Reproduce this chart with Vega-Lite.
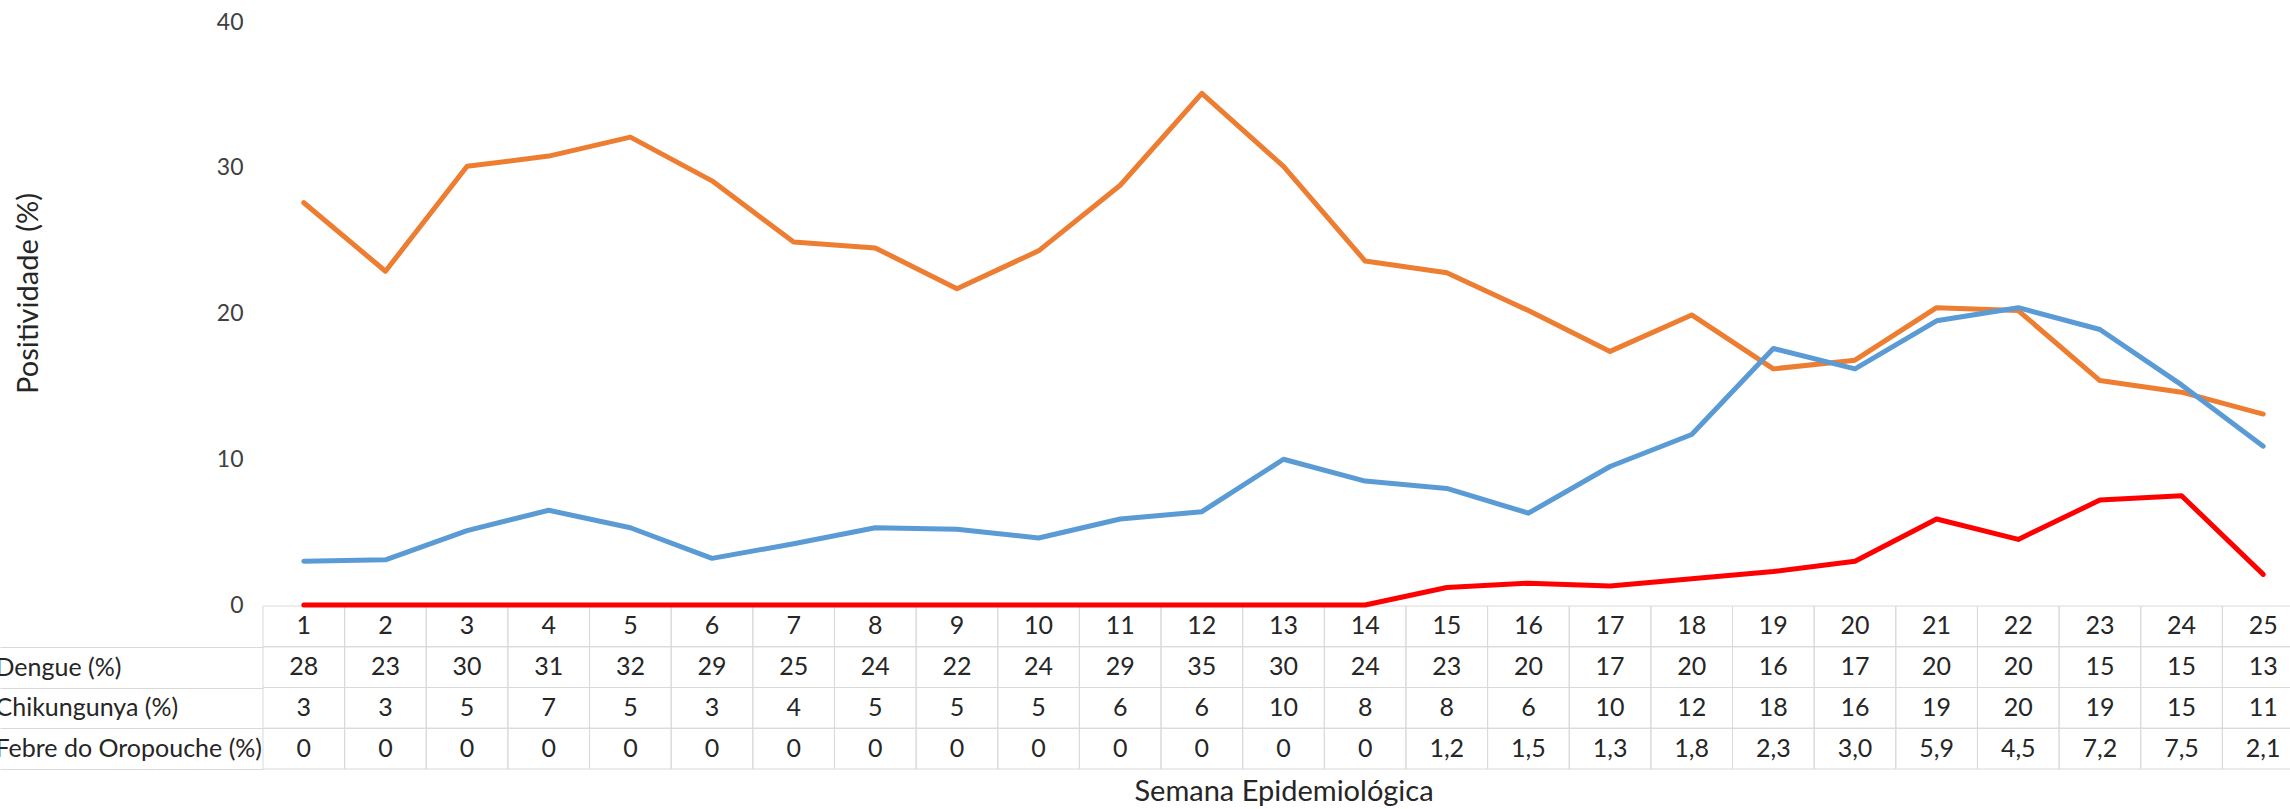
{
  "$schema": "https://vega.github.io/schema/vega-lite/v6.json",
  "autosize": {"type": "none"},
  "padding": {"left": 263, "top": 22, "right": 0, "bottom": 40},
  "width": 2027,
  "height": 747,
  "background": "white",
  "config": {"view": {"stroke": null}, "font": "Lato", "text": {"font": "Lato"}},
  "datasets": {
    "series": [
      {"week": 1, "serie": "Dengue (%)", "value": 27.6, "label": "28"},
      {"week": 2, "serie": "Dengue (%)", "value": 22.9, "label": "23"},
      {"week": 3, "serie": "Dengue (%)", "value": 30.1, "label": "30"},
      {"week": 4, "serie": "Dengue (%)", "value": 30.8, "label": "31"},
      {"week": 5, "serie": "Dengue (%)", "value": 32.1, "label": "32"},
      {"week": 6, "serie": "Dengue (%)", "value": 29.1, "label": "29"},
      {"week": 7, "serie": "Dengue (%)", "value": 24.9, "label": "25"},
      {"week": 8, "serie": "Dengue (%)", "value": 24.5, "label": "24"},
      {"week": 9, "serie": "Dengue (%)", "value": 21.7, "label": "22"},
      {"week": 10, "serie": "Dengue (%)", "value": 24.3, "label": "24"},
      {"week": 11, "serie": "Dengue (%)", "value": 28.8, "label": "29"},
      {"week": 12, "serie": "Dengue (%)", "value": 35.1, "label": "35"},
      {"week": 13, "serie": "Dengue (%)", "value": 30.1, "label": "30"},
      {"week": 14, "serie": "Dengue (%)", "value": 23.6, "label": "24"},
      {"week": 15, "serie": "Dengue (%)", "value": 22.8, "label": "23"},
      {"week": 16, "serie": "Dengue (%)", "value": 20.2, "label": "20"},
      {"week": 17, "serie": "Dengue (%)", "value": 17.4, "label": "17"},
      {"week": 18, "serie": "Dengue (%)", "value": 19.9, "label": "20"},
      {"week": 19, "serie": "Dengue (%)", "value": 16.2, "label": "16"},
      {"week": 20, "serie": "Dengue (%)", "value": 16.8, "label": "17"},
      {"week": 21, "serie": "Dengue (%)", "value": 20.4, "label": "20"},
      {"week": 22, "serie": "Dengue (%)", "value": 20.2, "label": "20"},
      {"week": 23, "serie": "Dengue (%)", "value": 15.4, "label": "15"},
      {"week": 24, "serie": "Dengue (%)", "value": 14.6, "label": "15"},
      {"week": 25, "serie": "Dengue (%)", "value": 13.1, "label": "13"},
      {"week": 1, "serie": "Chikungunya (%)", "value": 3.0, "label": "3"},
      {"week": 2, "serie": "Chikungunya (%)", "value": 3.1, "label": "3"},
      {"week": 3, "serie": "Chikungunya (%)", "value": 5.1, "label": "5"},
      {"week": 4, "serie": "Chikungunya (%)", "value": 6.5, "label": "7"},
      {"week": 5, "serie": "Chikungunya (%)", "value": 5.3, "label": "5"},
      {"week": 6, "serie": "Chikungunya (%)", "value": 3.2, "label": "3"},
      {"week": 7, "serie": "Chikungunya (%)", "value": 4.2, "label": "4"},
      {"week": 8, "serie": "Chikungunya (%)", "value": 5.3, "label": "5"},
      {"week": 9, "serie": "Chikungunya (%)", "value": 5.2, "label": "5"},
      {"week": 10, "serie": "Chikungunya (%)", "value": 4.6, "label": "5"},
      {"week": 11, "serie": "Chikungunya (%)", "value": 5.9, "label": "6"},
      {"week": 12, "serie": "Chikungunya (%)", "value": 6.4, "label": "6"},
      {"week": 13, "serie": "Chikungunya (%)", "value": 10.0, "label": "10"},
      {"week": 14, "serie": "Chikungunya (%)", "value": 8.5, "label": "8"},
      {"week": 15, "serie": "Chikungunya (%)", "value": 8.0, "label": "8"},
      {"week": 16, "serie": "Chikungunya (%)", "value": 6.3, "label": "6"},
      {"week": 17, "serie": "Chikungunya (%)", "value": 9.5, "label": "10"},
      {"week": 18, "serie": "Chikungunya (%)", "value": 11.7, "label": "12"},
      {"week": 19, "serie": "Chikungunya (%)", "value": 17.6, "label": "18"},
      {"week": 20, "serie": "Chikungunya (%)", "value": 16.2, "label": "16"},
      {"week": 21, "serie": "Chikungunya (%)", "value": 19.5, "label": "19"},
      {"week": 22, "serie": "Chikungunya (%)", "value": 20.4, "label": "20"},
      {"week": 23, "serie": "Chikungunya (%)", "value": 18.9, "label": "19"},
      {"week": 24, "serie": "Chikungunya (%)", "value": 15.1, "label": "15"},
      {"week": 25, "serie": "Chikungunya (%)", "value": 10.9, "label": "11"},
      {"week": 1, "serie": "Febre do Oropouche (%)", "value": 0, "label": "0"},
      {"week": 2, "serie": "Febre do Oropouche (%)", "value": 0, "label": "0"},
      {"week": 3, "serie": "Febre do Oropouche (%)", "value": 0, "label": "0"},
      {"week": 4, "serie": "Febre do Oropouche (%)", "value": 0, "label": "0"},
      {"week": 5, "serie": "Febre do Oropouche (%)", "value": 0, "label": "0"},
      {"week": 6, "serie": "Febre do Oropouche (%)", "value": 0, "label": "0"},
      {"week": 7, "serie": "Febre do Oropouche (%)", "value": 0, "label": "0"},
      {"week": 8, "serie": "Febre do Oropouche (%)", "value": 0, "label": "0"},
      {"week": 9, "serie": "Febre do Oropouche (%)", "value": 0, "label": "0"},
      {"week": 10, "serie": "Febre do Oropouche (%)", "value": 0, "label": "0"},
      {"week": 11, "serie": "Febre do Oropouche (%)", "value": 0, "label": "0"},
      {"week": 12, "serie": "Febre do Oropouche (%)", "value": 0, "label": "0"},
      {"week": 13, "serie": "Febre do Oropouche (%)", "value": 0, "label": "0"},
      {"week": 14, "serie": "Febre do Oropouche (%)", "value": 0, "label": "0"},
      {"week": 15, "serie": "Febre do Oropouche (%)", "value": 1.2, "label": "1,2"},
      {"week": 16, "serie": "Febre do Oropouche (%)", "value": 1.5, "label": "1,5"},
      {"week": 17, "serie": "Febre do Oropouche (%)", "value": 1.3, "label": "1,3"},
      {"week": 18, "serie": "Febre do Oropouche (%)", "value": 1.8, "label": "1,8"},
      {"week": 19, "serie": "Febre do Oropouche (%)", "value": 2.3, "label": "2,3"},
      {"week": 20, "serie": "Febre do Oropouche (%)", "value": 3.0, "label": "3,0"},
      {"week": 21, "serie": "Febre do Oropouche (%)", "value": 5.9, "label": "5,9"},
      {"week": 22, "serie": "Febre do Oropouche (%)", "value": 4.5, "label": "4,5"},
      {"week": 23, "serie": "Febre do Oropouche (%)", "value": 7.2, "label": "7,2"},
      {"week": 24, "serie": "Febre do Oropouche (%)", "value": 7.5, "label": "7,5"},
      {"week": 25, "serie": "Febre do Oropouche (%)", "value": 2.1, "label": "2,1"}
    ]
  },
  "data": {"name": "series"},
  "encoding": {
    "x": {
      "field": "week",
      "type": "ordinal",
      "scale": {"type": "band", "range": [0, 2041], "paddingInner": 0, "paddingOuter": 0},
      "axis": {
        "orient": "bottom",
        "title": "Semana Epidemiológica",
        "labels": false,
        "ticks": false,
        "domain": false,
        "grid": false,
        "titleFont": "Lato",
        "titleFontSize": 29,
        "titleFontWeight": "normal",
        "titleColor": "#262626",
        "titlePadding": 8
      }
    }
  },
  "layer": [
    {
      "encoding": {
        "y": {
          "field": "serie",
          "type": "nominal",
          "scale": {"domain": ["Semana", "Dengue (%)", "Chikungunya (%)", "Febre do Oropouche (%)"], "range": [584, 747], "paddingInner": 0, "paddingOuter": 0},
          "axis": {
            "orient": "left",
            "values": ["Dengue (%)", "Chikungunya (%)", "Febre do Oropouche (%)"],
            "title": null,
            "domain": false,
            "grid": false,
            "ticks": true,
            "tickBand": "extent",
            "tickSize": 263,
            "tickColor": "#d9d9d9",
            "tickWidth": 1,
            "labelAlign": "left",
            "labelBaseline": "middle",
            "labelPadding": 5,
            "labelFont": "Lato",
            "labelFontSize": 25,
            "labelColor": "#262626",
            "labelLimit": 500,
            "labelOverlap": false
          }
        }
      },
      "layer": [
        {
          "mark": {"type": "rect", "fill": "transparent", "stroke": "#d9d9d9", "strokeWidth": 1}
        },
        {
          "transform": [{"filter": "datum.serie === 'Dengue (%)'"}],
          "mark": {"type": "rect", "fill": "transparent", "stroke": "#d9d9d9", "strokeWidth": 1},
          "encoding": {"y": {"datum": "Semana", "type": "nominal"}}
        },
        {
          "mark": {"type": "text", "fontSize": 25, "color": "#262626", "baseline": "middle", "align": "center"},
          "encoding": {"text": {"field": "label", "type": "nominal"}}
        },
        {
          "transform": [{"filter": "datum.serie === 'Dengue (%)'"}],
          "mark": {"type": "text", "fontSize": 25, "color": "#262626", "baseline": "middle", "align": "center"},
          "encoding": {
            "y": {"datum": "Semana", "type": "nominal"},
            "text": {"field": "week", "type": "ordinal"}
          }
        }
      ]
    },
    {
      "mark": {"type": "line", "strokeWidth": 5, "strokeCap": "round", "strokeJoin": "round"},
      "encoding": {
        "y": {
          "field": "value",
          "type": "quantitative",
          "scale": {"domain": [0, 40], "range": [583, 0], "nice": false},
          "axis": {
            "orient": "left",
            "values": [0, 10, 20, 30, 40],
            "domain": false,
            "ticks": false,
            "grid": false,
            "labelPadding": 20,
            "labelFont": "Lato",
            "labelFontSize": 23,
            "labelColor": "#404040",
            "title": "Positividade (%)",
            "titleFont": "Lato",
            "titleFontSize": 29,
            "titleFontWeight": "normal",
            "titleColor": "#262626",
            "titleAngle": 270,
            "titleAlign": "center",
            "titleBaseline": "middle",
            "titleX": -235,
            "titleY": 271
          }
        },
        "color": {
          "field": "serie",
          "type": "nominal",
          "scale": {"domain": ["Dengue (%)", "Chikungunya (%)", "Febre do Oropouche (%)"], "range": ["#ED7D31", "#5B9BD5", "#FF0000"]},
          "legend": null
        }
      }
    }
  ],
  "resolve": {"scale": {"y": "independent"}, "axis": {"y": "independent"}}
}
